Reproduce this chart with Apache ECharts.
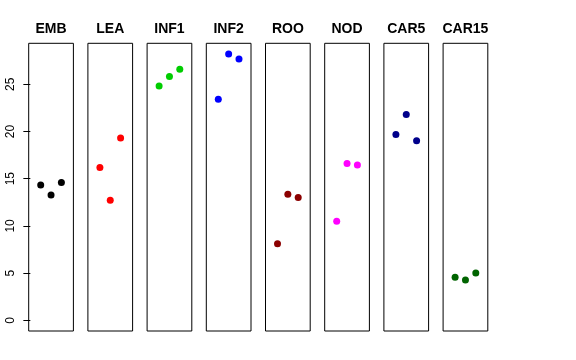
<!DOCTYPE html>
<html>
<head>
<meta charset="utf-8">
<script src="https://cdn.jsdelivr.net/npm/echarts@6/dist/echarts.min.js"></script>
<style>html,body{margin:0;padding:0;background:#fff;}#c{width:576px;height:360px;}</style>
</head>
<body>
<div id="c"></div>
<script>
var categories = ["EMB", "LEA", "INF1", "INF2", "ROO", "NOD", "CAR5", "CAR15"];
var colors = ["#000000", "#FF0000", "#00CD00", "#0000FF", "#8B0000", "#FF00FF", "#00008B", "#006400"];
var replicate = [1, 2, 3];
var EMB = [14.33, 13.27, 14.59];
var LEA = [16.18, 12.71, 19.31];
var INF1 = [24.82, 25.81, 26.59];
var INF2 = [23.41, 28.21, 27.68];
var ROO = [8.12, 13.35, 13.00];
var NOD = [10.49, 16.60, 16.45];
var CAR5 = [19.67, 21.79, 19.03];
var CAR15 = [4.56, 4.27, 5.01];
var yTicks = [0, 5, 10, 15, 20, 25];

var values = [EMB, LEA, INF1, INF2, ROO, NOD, CAR5, CAR15];
var ymax = 28.21, ymin = 0;
var yr = ymax - ymin;
var font = '"Liberation Sans", Arial, Helvetica, sans-serif';

var grids = [], xAxes = [], yAxes = [], series = [], titles = [];
var panelLeft0 = 28.7, panelStep = 59.2, panelW = 44.7, panelTop = 43.3, panelH = 287.7;
for (var i = 0; i < categories.length; i++) {
  var L = panelLeft0 + i * panelStep;
  grids.push({left: L, top: panelTop, width: panelW, height: panelH, show: true, borderColor: '#000', borderWidth: 1, backgroundColor: 'transparent'});
  xAxes.push({type: 'value', gridIndex: i, min: -0.16, max: 4.16, show: false});
  var first = i === 0;
  yAxes.push({
    type: 'value', gridIndex: i, min: ymin - 0.04 * yr, max: ymax + 0.04 * yr,
    show: first,
    splitLine: {show: false},
    axisLine: {show: false},
    axisTick: {show: first, length: 7, lineStyle: {color: '#000', width: 1}, customValues: yTicks},
    axisLabel: {show: first, rotate: 90, margin: 12, fontSize: 12, color: '#000', fontFamily: font, customValues: yTicks}
  });
  series.push({
    type: 'scatter', xAxisIndex: i, yAxisIndex: i, symbol: 'circle', symbolSize: 7,
    itemStyle: {color: colors[i], opacity: 1},
    data: replicate.map(function (x, j) { return [x, values[i][j]]; }),
    silent: true
  });
  titles.push({
    text: categories[i], left: L + panelW / 2, top: 22, textAlign: 'center', padding: 0,
    textStyle: {fontSize: 14, fontWeight: 'bold', color: '#000', fontFamily: font}
  });
}

var chart = echarts.init(document.getElementById('c'), null, {renderer: 'canvas'});
chart.setOption({
  animation: false,
  backgroundColor: '#fff',
  title: titles,
  grid: grids,
  xAxis: xAxes,
  yAxis: yAxes,
  series: series
});
</script>
</body>
</html>
